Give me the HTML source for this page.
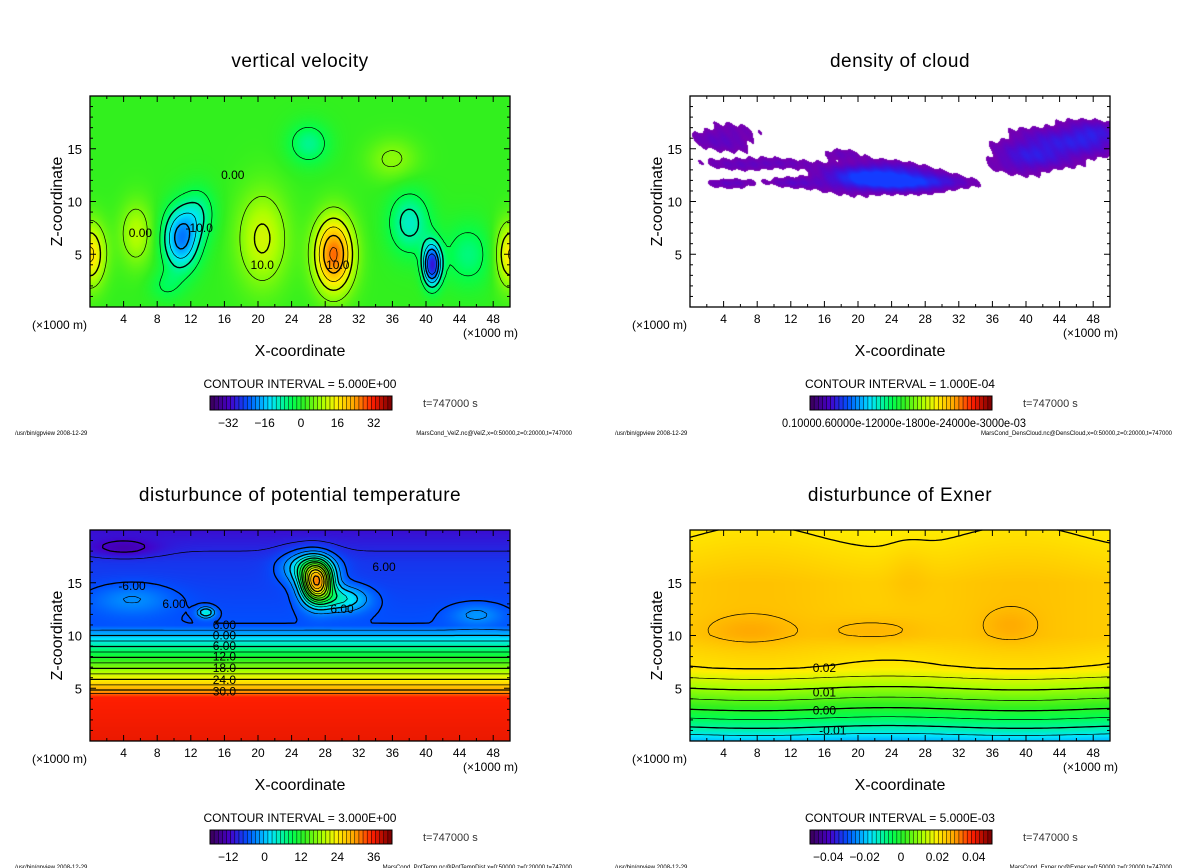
<!DOCTYPE html>
<html><head><meta charset="utf-8">
<style>
html,body{margin:0;padding:0;background:#fff;}
#wrap{position:relative;width:1200px;height:868px;overflow:hidden;font-family:"Liberation Sans",sans-serif;}
canvas{position:absolute;}
svg{position:absolute;left:0;top:0;}
</style></head>
<body>
<div id="wrap">
<canvas id="c0"></canvas>
<canvas id="c1"></canvas>
<canvas id="c2"></canvas>
<canvas id="c3"></canvas>
<svg id="svg" width="1200" height="868"></svg>
</div>
<script>
// ---- data ----
const xTicks = [4,8,12,16,20,24,28,32,36,40,44,48];
const zTicks = [5,10,15];
const titles = ["vertical velocity","density of cloud","disturbunce of potential temperature","disturbunce of Exner"];
const intervals = ["CONTOUR INTERVAL = 5.000E+00","CONTOUR INTERVAL = 1.000E-04","CONTOUR INTERVAL = 3.000E+00","CONTOUR INTERVAL = 5.000E-03"];
const cbarLabels0 = ["-32","-16","0","16","32"];
const cbarLabels2 = ["-12","0","12","24","36"];
const cbarLabels3 = ["-0.04","-0.02","0","0.02","0.04"];
const footers = ["MarsCond_VelZ.nc@VelZ,x=0:50000,z=0:20000,t=747000","MarsCond_DensCloud.nc@DensCloud,x=0:50000,z=0:20000,t=747000","MarsCond_PotTemp.nc@PotTempDist,x=0:50000,z=0:20000,t=747000","MarsCond_Exner.nc@Exner,x=0:50000,z=0:20000,t=747000"];
// blobs: [x(km), z(km), amplitude, sx, sz]
const velBlobs = [[0,5,16,1.8,3],[5.5,7,9,2,3],[10.8,6.5,-22,2.2,3],[13,9,-8,2,2.5],[20.5,6.5,11,3,4.5],[29,5,26,2.3,3.5],[40.7,4,-30,1.1,2],[38,8,-12,2.5,3],[50,5,16,1.8,3],[26,15.5,-9,2.5,2],[45,5,-8,3,3],[36,14,6,3,2],[9,2,-5,2,1.5]];
const cloudBlobs = [[22,12.3,10,6,1.2],[28,11.8,5,5,0.7],[4,16,3,4,1.4],[8,13.6,3,6,0.6],[5,11.8,3,3,0.5],[12,11.8,2.5,3,0.5],[18,14.5,2,2.5,0.6],[44,15.5,5,6,1.6],[40,14,4,4,1.3],[48,16.5,4,3,1.2]];
const thetaProfileZ = [0,4.2,4.8,10,11,14,17,20];
const thetaProfileV = [37,36,30,0,-6,-7,-8,-11];
const thetaBlobs = [[27,15,34,1.8,1.8],[26,16.5,12,3,1.5],[30,13.5,10,3,1.2],[13.8,12.2,10,1,0.5],[5,13.5,4,5,1.5],[4,18.3,-4,4,0.8],[46,12,4,3,1]];
const exnerProfileZ = [0,1,3,5,7,10,15,19.3,20];
const exnerProfileV = [-0.02,-0.012,0,0.01,0.02,0.0235,0.0235,0.02,0.0195];
const exnerBlobs = [[7,10.5,0.003,5,1.3],[22,10.5,0.003,6,1.3],[38,11,0.0028,3,1.5],[26,16,0.0015,2.5,3]];

// ---- layout ----
const panels = [
  {x0:90,x1:510,y0:96,y1:307},
  {x0:690,x1:1110,y0:96,y1:307},
  {x0:90,x1:510,y0:530,y1:741},
  {x0:690,x1:1110,y0:530,y1:741}
];
const stops=[[0,[60,0,100]],[0.1,[70,0,200]],[0.2,[0,80,255]],[0.33,[0,230,255]],[0.45,[0,255,80]],[0.52,[50,240,30]],[0.62,[170,255,0]],[0.7,[255,240,0]],[0.8,[255,165,0]],[0.9,[255,30,0]],[1,[130,0,0]]];
function cmap(t){t=Math.max(0,Math.min(1,t));for(let i=1;i<stops.length;i++){if(t<=stops[i][0]){const a=stops[i-1],b=stops[i];const f=(t-a[0])/(b[0]-a[0]);return a[1].map((v,k)=>Math.round(v+(b[1][k]-v)*f));}}return stops[stops.length-1][1];}
function interp(zs,vs,z){for(let i=1;i<zs.length;i++){if(z<=zs[i]){const f=(z-zs[i-1])/(zs[i]-zs[i-1]);return vs[i-1]+(vs[i]-vs[i-1])*f;}}return vs[vs.length-1];}
function blobSum(bl,x,z){let s=0;for(const b of bl){const u=(x-b[0])/b[3],w=(z-b[1])/b[4];s+=b[2]*Math.exp(-(u*u+w*w));}return s;}
function xScale(p,x){return p.x0+(x/50)*(p.x1-p.x0);}
function zScale(p,z){return p.y1-(z/20)*(p.y1-p.y0);}

const values=[
  (x,z)=>blobSum(velBlobs,x,z),
  (x,z)=>blobSum(cloudBlobs,x,z)+0.6*Math.sin(x*2.3+z*3.1)*Math.sin(x*1.7),
  (x,z)=>interp(thetaProfileZ,thetaProfileV,z)+blobSum(thetaBlobs,x,z),
  (x,z)=>interp(exnerProfileZ,exnerProfileV,z)+blobSum(exnerBlobs,x,z)+0.0008*Math.sin(x/5)
];
const colorOf=[
  v=>cmap(0.52+v/80),
  v=>{if(v<1.3)return null;const t=Math.min(1,(v-1.3)/7);return [Math.round(120-100*t),Math.round(60*t*t),Math.round(175+80*t)];},
  v=>cmap((v+18)/60),
  v=>cmap(0.5+v/0.093)
];
panels.forEach((p,i)=>{
  const c=document.getElementById('c'+i);
  const W=p.x1-p.x0,H=p.y1-p.y0;
  c.width=W;c.height=H;c.style.left=p.x0+'px';c.style.top=p.y0+'px';
  const ctx=c.getContext('2d');const img=ctx.createImageData(W,H);
  for(let py=0;py<H;py++)for(let px=0;px<W;px++){
    const x=px/W*50,z=(H-py)/H*20;const col=colorOf[i](values[i](x,z));const o=(py*W+px)*4;
    if(col){img.data[o]=col[0];img.data[o+1]=col[1];img.data[o+2]=col[2];img.data[o+3]=255;}else{img.data[o+3]=0;}
  }
  ctx.putImageData(img,0,0);
});

// ---- overlay ----
const svg=document.getElementById('svg');const NS='http://www.w3.org/2000/svg';
function el(tag,attrs,parent){const e=document.createElementNS(NS,tag);for(const k in attrs)e.setAttribute(k,attrs[k]);(parent||svg).appendChild(e);return e;}
function txt(s,x,y,size,anchor,parent,extra){const t=el('text',Object.assign({x:x,y:y,'font-size':size,'text-anchor':anchor||'start',fill:'#000','font-family':'"Liberation Sans",sans-serif'},extra||{}),parent);t.textContent=s;return t;}

function contour(i,level,width,dash){
  const p=panels[i];const step=3;const W=p.x1-p.x0,H=p.y1-p.y0;
  const nx=Math.floor(W/step),ny=Math.floor(H/step);
  const g=[];for(let a=0;a<=ny;a++){const row=[];for(let b=0;b<=nx;b++){row.push(values[i](b*step/W*50,(H-a*step)/H*20)-level);}g.push(row);}
  let d='';
  for(let a=0;a<ny;a++)for(let b=0;b<nx;b++){
    const v0=g[a][b],v1=g[a][b+1],v2=g[a+1][b+1],v3=g[a+1][b];
    const pts=[];
    const X=b*step+p.x0,Y=a*step+p.y0;
    if((v0>0)!==(v1>0))pts.push([X+step*v0/(v0-v1),Y]);
    if((v1>0)!==(v2>0))pts.push([X+step,Y+step*v1/(v1-v2)]);
    if((v3>0)!==(v2>0))pts.push([X+step*v3/(v3-v2),Y+step]);
    if((v0>0)!==(v3>0))pts.push([X,Y+step*v0/(v0-v3)]);
    for(let k=0;k+1<pts.length;k+=2)d+=`M${pts[k][0].toFixed(1)},${pts[k][1].toFixed(1)}L${pts[k+1][0].toFixed(1)},${pts[k+1][1].toFixed(1)}`;
  }
  if(!d)return;
  const pa=el('path',{d:d,fill:'none',stroke:'#000','stroke-width':width,'stroke-dasharray':dash?'4,3':'none'});
  
  
}
const velLevels=[-25,-20,-15,-10,-5,5,10,15,20,25];
velLevels.forEach(l=>contour(0,l,l%10===0?1.4:0.7,l<0));
const thetaLevels=[-12,-9,-6,-3,0,3,6,9,12,15,18,21,24,27,30,33];
thetaLevels.forEach(l=>contour(2,l,l%6===0?1.3:0.7,l<0));
const exLevels=[-0.015,-0.01,-0.005,0,0.005,0.01,0.015,0.02,0.025];
exLevels.forEach(l=>contour(3,l,Math.abs(l*100-Math.round(l*100))<1e-6?1.3:0.7,l<0));

const cbLabels=[cbarLabels0,null,cbarLabels2,cbarLabels3];
const cbRange=[[-40,40],null,[-18,42],[-0.05,0.05]];
panels.forEach((p,i)=>{
  const g=el('g',{});
  
  
  const cx=(p.x0+p.x1)/2;
  const t=txt(titles[i],cx,p.y0-29,19,'middle',g,{'letter-spacing':'0.5'});
  
  
  const fr=el('rect',{x:p.x0,y:p.y0,width:p.x1-p.x0,height:p.y1-p.y0,fill:'none',stroke:'#000','stroke-width':1.3},g);
  
  
  for(let x=2;x<50;x+=2){const X=xScale(p,x);const L=(x%4===0)?6:3;el('line',{x1:X,x2:X,y1:p.y1,y2:p.y1-L,stroke:'#000'},g);el('line',{x1:X,x2:X,y1:p.y0,y2:p.y0+L,stroke:'#000'},g);}
  for(let z=1;z<20;z++){const Y=zScale(p,z);const L=(z%5===0)?6:3;el('line',{x1:p.x0,x2:p.x0+L,y1:Y,y2:Y,stroke:'#000'},g);el('line',{x1:p.x1,x2:p.x1-L,y1:Y,y2:Y,stroke:'#000'},g);}
  xTicks.forEach(v=>{const l=txt(String(v),xScale(p,v),p.y1+16,12,'middle',g);});
  zTicks.forEach(v=>{const l=txt(String(v),p.x0-8,zScale(p,v)+5,13,'end',g);});
  txt('(×1000 m)',p.x0-58,p.y1+22,12,'start',g);
  txt('(×1000 m)',p.x1+8,p.y1+30,12,'end',g);
  const xl=txt('X-coordinate',cx,p.y1+49,16,'middle',g);
  
  const yl=txt('Z-coordinate',0,0,16,'middle',g,{transform:`translate(${p.x0-28},${(p.y0+p.y1)/2}) rotate(-90)`});
  
  txt(intervals[i],cx,p.y1+81,12,'middle',g);
  const cb=el('g',{},g);
  
  const bx=p.x0+120,bw=182,by=p.y1+89,bh=14,n=44;
  for(let k=0;k<n;k++){const col=cmap(k/(n-1));el('rect',{x:bx+k*bw/n,y:by,width:bw/n+0.3,height:bh,fill:`rgb(${col})`},cb);el('line',{x1:bx+k*bw/n,x2:bx+k*bw/n,y1:by,y2:by+bh,stroke:'#000','stroke-width':0.5},cb);}
  el('rect',{x:bx,y:by,width:bw,height:bh,fill:'none',stroke:'#000'},cb);
  if(cbLabels[i]){const r=cbRange[i];cbLabels[i].forEach(s=>{const v=parseFloat(s);txt(s.replace('-','−'),bx+(v-r[0])/(r[1]-r[0])*bw,by+31,12,'middle',cb);});}
  else{txt('0.10000.60000e-12000e-1800e-24000e-3000e-03',bx+94,by+31,12,'middle',cb,{textLength:244,lengthAdjust:'spacingAndGlyphs'});}
  txt('t=747000  s',p.x0+333,by+11,11,'start',g,{fill:'#333'});
  txt('/usr/bin/gpview   2008-12-29',p.x0-75,by+39,6,'start',g);
  txt(footers[i],p.x0+482,by+39,6,'end',g);
});
const labs=[[0,"0.00",17,12.5],[0,"-10.0",13,7.5],[0,"10.0",20.5,4],[0,"10.0",29.5,4],[0,"0.00",6,7],
 [2,"6.00",16,11],[2,"0.00",16,10],[2,"6.00",16,9],[2,"12.0",16,8],[2,"18.0",16,6.9],[2,"24.0",16,5.8],[2,"30.0",16,4.7],[2,"-6.00",5,14.7],[2,"6.00",10,13],[2,"6.00",35,16.5],[2,"6.00",30,12.5],
 [3,"0.02",16,6.9],[3,"0.01",16,4.6],[3,"0.00",16,2.9],[3,"-0.01",17,1]];
labs.forEach(l=>{const p=panels[l[0]];const X=xScale(p,l[2]),Y=zScale(p,l[3]);
 const t=txt(l[1],X,Y+4,12,'middle',svg,{stroke:'none'});});
</script>
</body></html>
